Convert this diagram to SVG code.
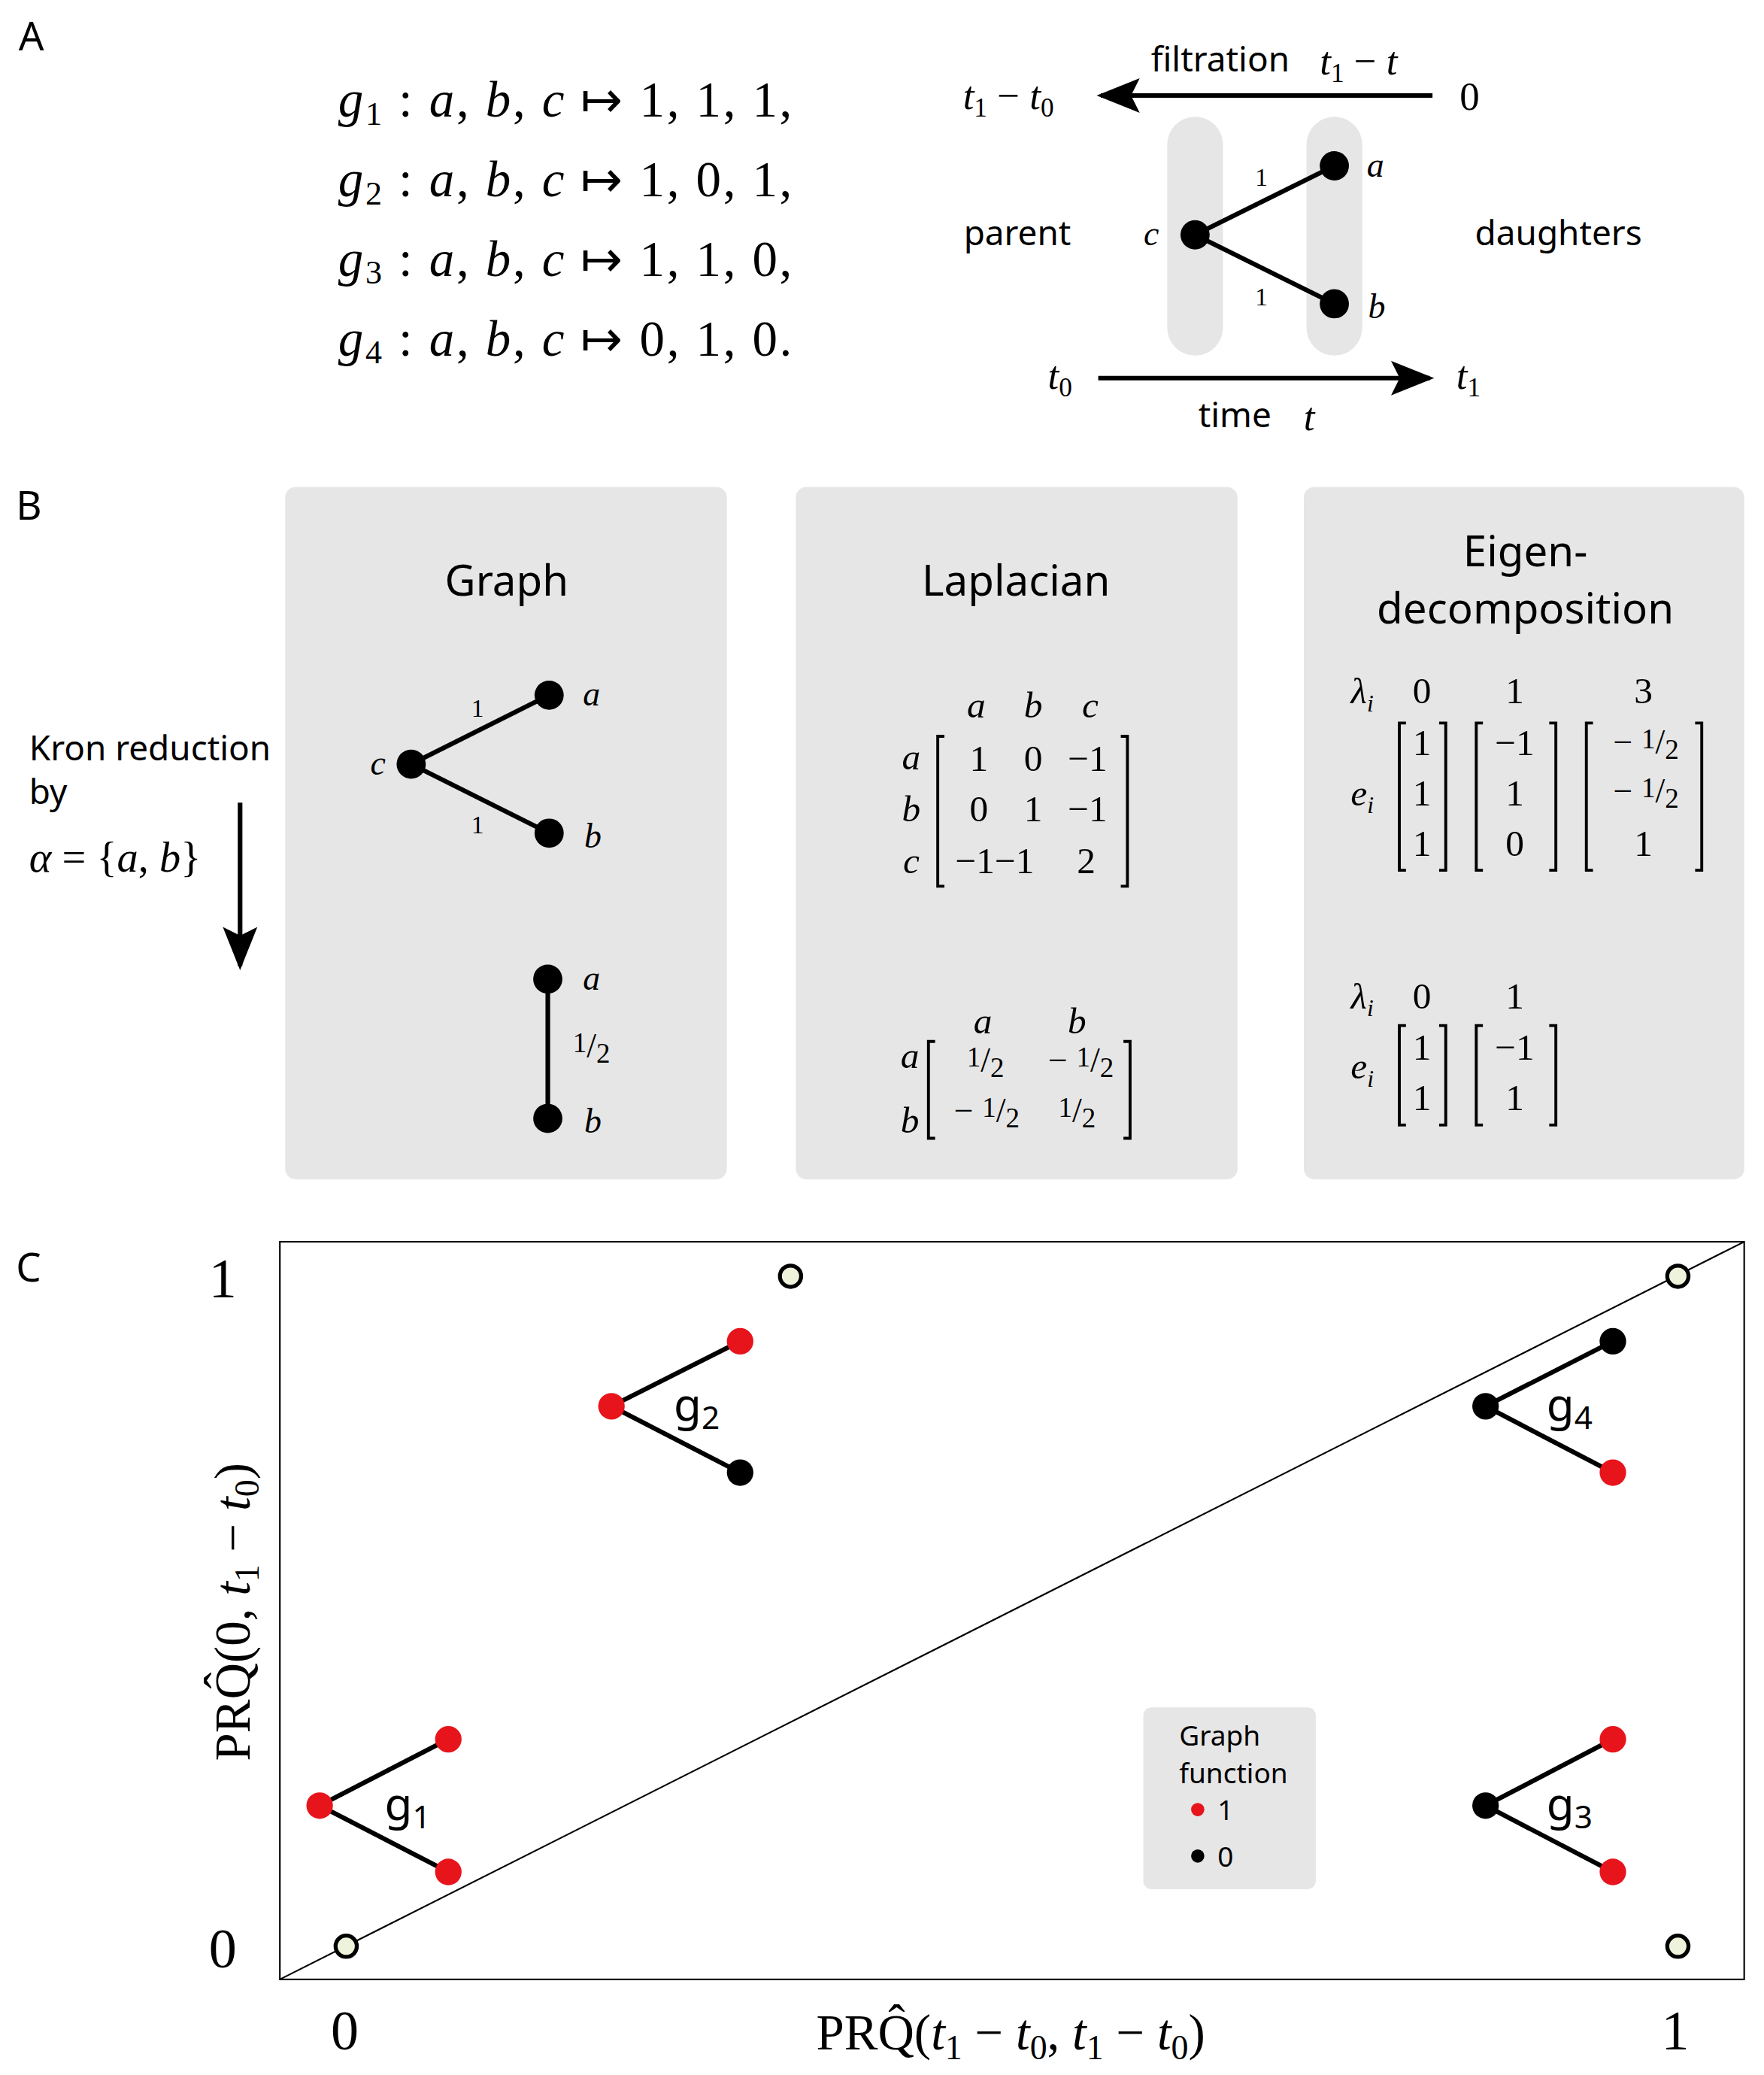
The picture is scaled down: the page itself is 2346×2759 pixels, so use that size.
<svg xmlns="http://www.w3.org/2000/svg" width="2346" height="2759" viewBox="0 0 2346 2759">
<style>
.s{font-family:"Noto Sans","Open Sans",sans-serif;fill:#000}
.m{font-family:"Liberation Serif",serif;font-style:italic;fill:#000}
.n{font-family:"Liberation Serif",serif;fill:#000}
.e{stroke:#000;stroke-width:3.5;fill:none}
.br{stroke:#000;stroke-width:2.2;fill:none}
.pan{fill:#e6e6e6}
</style>
<defs>
<marker id="ahb" viewBox="0 0 10 8" refX="9" refY="4" markerWidth="36" markerHeight="26" orient="auto" markerUnits="userSpaceOnUse"><path d="M0,0 L10,4 L0,8 L2,4 Z" fill="#000"/></marker>
</defs>
<rect width="2346" height="2759" fill="#fff"/>
<g transform="scale(1.764)">
<g id="panelA">
<text class="s" x="14" y="38" font-size="30">A</text>
<g font-size="38" letter-spacing="1.5">
<text class="m" x="255" y="88">g<tspan font-size="25" dy="6" font-style="normal">1</tspan><tspan dy="-6" font-style="normal"> : </tspan>a<tspan font-style="normal">, </tspan>b<tspan font-style="normal">, </tspan>c<tspan font-style="normal"> ↦ 1, 1, 1,</tspan></text>
<text class="m" x="255" y="148">g<tspan font-size="25" dy="6" font-style="normal">2</tspan><tspan dy="-6" font-style="normal"> : </tspan>a<tspan font-style="normal">, </tspan>b<tspan font-style="normal">, </tspan>c<tspan font-style="normal"> ↦ 1, 0, 1,</tspan></text>
<text class="m" x="255" y="208">g<tspan font-size="25" dy="6" font-style="normal">3</tspan><tspan dy="-6" font-style="normal"> : </tspan>a<tspan font-style="normal">, </tspan>b<tspan font-style="normal">, </tspan>c<tspan font-style="normal"> ↦ 1, 1, 0,</tspan></text>
<text class="m" x="255" y="268">g<tspan font-size="25" dy="6" font-style="normal">4</tspan><tspan dy="-6" font-style="normal"> : </tspan>a<tspan font-style="normal">, </tspan>b<tspan font-style="normal">, </tspan>c<tspan font-style="normal"> ↦ 0, 1, 0.</tspan></text>
</g>
<rect class="pan" x="880" y="88" width="42" height="180" rx="21"/>
<rect class="pan" x="985" y="88" width="42" height="180" rx="21"/>
<g id="conA">
<line class="e" x1="1080" y1="72" x2="830" y2="72" marker-end="url(#ahb)" stroke-width="3"/>
<line class="e" x1="828" y1="285" x2="1078" y2="285" marker-end="url(#ahb)" stroke-width="3"/>
<line class="e" x1="901" y1="177" x2="1006" y2="125"/>
<line class="e" x1="901" y1="177" x2="1006" y2="229"/>
</g>
<g id="A_c"><circle cx="901" cy="177" r="11"/><text class="m" x="868" y="185" font-size="26" text-anchor="middle">c</text></g>
<g id="A_a"><circle cx="1006" cy="125" r="11"/><text class="m" x="1037" y="133" font-size="26" text-anchor="middle">a</text></g>
<g id="A_b"><circle cx="1006" cy="229" r="11"/><text class="m" x="1038" y="240" font-size="26" text-anchor="middle">b</text></g>
<text class="n" x="951" y="140" font-size="19" text-anchor="middle">1</text>
<text class="n" x="951" y="230" font-size="19" text-anchor="middle">1</text>
<text class="s" x="920" y="54" font-size="26" text-anchor="middle">filtration</text>
<text class="m" x="995" y="56" font-size="30">t<tspan font-size="20" dy="6" font-style="normal">1</tspan><tspan dy="-6" font-style="normal"> − </tspan>t</text>
<text class="m" x="726" y="82" font-size="30">t<tspan font-size="20" dy="6" font-style="normal">1</tspan><tspan dy="-6" font-style="normal"> − </tspan>t<tspan font-size="20" dy="6" font-style="normal">0</tspan></text>
<text class="n" x="1108" y="83" font-size="30" text-anchor="middle">0</text>
<text class="s" x="767" y="185" font-size="26" text-anchor="middle">parent</text>
<text class="s" x="1175" y="185" font-size="26" text-anchor="middle">daughters</text>
<text class="m" x="790" y="293" font-size="30">t<tspan font-size="20" dy="6" font-style="normal">0</tspan></text>
<text class="m" x="1098" y="293" font-size="30">t<tspan font-size="20" dy="6" font-style="normal">1</tspan></text>
<text class="s" x="931" y="322" font-size="26" text-anchor="middle">time</text>
<text class="m" x="987" y="324" font-size="30" text-anchor="middle">t</text>
</g>
<g id="panelB">
<text class="s" x="12" y="392" font-size="30">B</text>
<rect class="pan" x="215" y="367" width="333" height="522" rx="8"/>
<rect class="pan" x="600" y="367" width="333" height="522" rx="8"/>
<rect class="pan" x="983" y="367" width="332" height="522" rx="8"/>
<text class="s" x="382" y="449" font-size="32" text-anchor="middle">Graph</text>
<text class="s" x="766" y="449" font-size="32" text-anchor="middle">Laplacian</text>
<text class="s" x="1150" y="427" font-size="32" text-anchor="middle">Eigen-</text>
<text class="s" x="1150" y="470" font-size="32" text-anchor="middle">decomposition</text>
<text class="s" x="22" y="573" font-size="26">Kron reduction</text>
<text class="s" x="22" y="606" font-size="26">by</text>
<text class="m" x="22" y="657" font-size="32">α<tspan font-style="normal"> = {</tspan>a<tspan font-style="normal">, </tspan>b<tspan font-style="normal">}</tspan></text>
<g id="conB">
<line class="e" x1="181" y1="605" x2="181" y2="728" marker-end="url(#ahb)" stroke-width="3"/>
<line class="e" x1="310" y1="576" x2="414" y2="524"/>
<line class="e" x1="310" y1="576" x2="414" y2="628"/>
<line class="e" x1="413" y1="738" x2="413" y2="843"/>
</g>
<g id="B_c"><circle cx="310" cy="576" r="11"/><text class="m" x="285" y="584" font-size="26" text-anchor="middle">c</text></g>
<g id="B_a"><circle cx="414" cy="524" r="11"/><text class="m" x="446" y="532" font-size="26" text-anchor="middle">a</text></g>
<g id="B_b"><circle cx="414" cy="628" r="11"/><text class="m" x="447" y="639" font-size="26" text-anchor="middle">b</text></g>
<text class="n" x="360" y="540" font-size="19" text-anchor="middle">1</text>
<text class="n" x="360" y="628" font-size="19" text-anchor="middle">1</text>
<g id="B_a2"><circle cx="413" cy="738" r="11"/><text class="m" x="446" y="746" font-size="26" text-anchor="middle">a</text></g>
<g id="B_b2"><circle cx="413" cy="843" r="11"/><text class="m" x="447" y="854" font-size="26" text-anchor="middle">b</text></g>
<text class="n" x="446" y="797" font-size="26" text-anchor="middle"><tspan font-size="21" dy="-4">1</tspan><tspan dy="4">/</tspan><tspan font-size="21" dy="4">2</tspan></text>
<g font-size="28" text-anchor="middle">
<text class="m" x="736" y="541">a</text><text class="m" x="779" y="541">b</text><text class="m" x="822" y="541">c</text>
<text class="m" x="687" y="580">a</text><text class="m" x="687" y="619">b</text><text class="m" x="687" y="658">c</text>
<text class="n" x="738" y="581">1</text><text class="n" x="779" y="581">0</text><text class="n" x="820" y="581">−1</text>
<text class="n" x="738" y="619">0</text><text class="n" x="779" y="619">1</text><text class="n" x="820" y="619">−1</text>
<text class="n" x="750" y="658">−1−1</text><text class="n" x="819" y="658">2</text>
</g>
<path class="br" d="M712,555 H707 V668 H712 M845,555 H850 V668 H845"/>
<g font-size="28" text-anchor="middle">
<text class="m" x="741" y="779">a</text><text class="m" x="812" y="779">b</text>
<text class="m" x="686" y="805">a</text><text class="m" x="686" y="854">b</text>
</g>
<g font-size="26" text-anchor="middle">
<text class="n" x="743" y="808"><tspan font-size="21" dy="-4">1</tspan><tspan dy="4">/</tspan><tspan font-size="21" dy="4">2</tspan></text>
<text class="n" x="815" y="808">− <tspan font-size="21" dy="-4">1</tspan><tspan dy="4">/</tspan><tspan font-size="21" dy="4">2</tspan></text>
<text class="n" x="744" y="846">− <tspan font-size="21" dy="-4">1</tspan><tspan dy="4">/</tspan><tspan font-size="21" dy="4">2</tspan></text>
<text class="n" x="812" y="846"><tspan font-size="21" dy="-4">1</tspan><tspan dy="4">/</tspan><tspan font-size="21" dy="4">2</tspan></text>
</g>
<path class="br" d="M705,785 H700 V858 H705 M847,785 H852 V858 H847"/>
<g font-size="28" text-anchor="middle">
<text class="m" x="1027" y="530">λ<tspan font-size="18" dy="6">i</tspan></text>
<text class="n" x="1072" y="530">0</text><text class="n" x="1142" y="530">1</text><text class="n" x="1239" y="530">3</text>
<text class="m" x="1027" y="607">e<tspan font-size="18" dy="6">i</tspan></text>
<text class="n" x="1072" y="569">1</text><text class="n" x="1072" y="607">1</text><text class="n" x="1072" y="645">1</text>
<text class="n" x="1142" y="569">−1</text><text class="n" x="1142" y="607">1</text><text class="n" x="1142" y="645">0</text>
<text class="n" x="1239" y="645">1</text>
<text class="m" x="1027" y="760">λ<tspan font-size="18" dy="6">i</tspan></text>
<text class="n" x="1072" y="760">0</text><text class="n" x="1142" y="760">1</text>
<text class="m" x="1027" y="813">e<tspan font-size="18" dy="6">i</tspan></text>
<text class="n" x="1072" y="799">1</text><text class="n" x="1072" y="837">1</text>
<text class="n" x="1142" y="799">−1</text><text class="n" x="1142" y="837">1</text>
</g>
<g font-size="26" text-anchor="middle">
<text class="n" x="1241" y="568">− <tspan font-size="21" dy="-4">1</tspan><tspan dy="4">/</tspan><tspan font-size="21" dy="4">2</tspan></text>
<text class="n" x="1241" y="605">− <tspan font-size="21" dy="-4">1</tspan><tspan dy="4">/</tspan><tspan font-size="21" dy="4">2</tspan></text>
</g>
<path class="br" d="M1060,545 H1055 V656 H1060 M1085,545 H1090 V656 H1085 M1118,545 H1113 V656 H1118 M1168,545 H1173 V656 H1168 M1201,545 H1196 V656 H1201 M1278,545 H1283 V656 H1278"/>
<path class="br" d="M1060,773 H1055 V848 H1060 M1085,773 H1090 V848 H1085 M1118,773 H1113 V848 H1118 M1168,773 H1173 V848 H1168"/>
</g>
<g id="panelC">
<text class="s" x="12" y="966" font-size="30">C</text>
<rect x="211" y="936" width="1104" height="556" fill="none" stroke="#000" stroke-width="1.2"/>
<line x1="211" y1="1492" x2="1315" y2="936" stroke="#000" stroke-width="1.2"/>
<text class="n" x="168" y="978" font-size="42" text-anchor="middle">1</text>
<text class="n" x="168" y="1483" font-size="42" text-anchor="middle">0</text>
<text class="n" x="260" y="1545" font-size="42" text-anchor="middle">0</text>
<text class="n" x="1263" y="1545" font-size="42" text-anchor="middle">1</text>
<text class="n" x="762" y="1545" font-size="38" text-anchor="middle">PRQ̂(<tspan font-style="italic">t</tspan><tspan font-size="26" dy="7">1</tspan><tspan dy="-7"> − </tspan><tspan font-style="italic">t</tspan><tspan font-size="26" dy="7">0</tspan><tspan dy="-7">, </tspan><tspan font-style="italic">t</tspan><tspan font-size="26" dy="7">1</tspan><tspan dy="-7"> − </tspan><tspan font-style="italic">t</tspan><tspan font-size="26" dy="7">0</tspan><tspan dy="-7">)</tspan></text>
<text class="n" transform="translate(188,1215) rotate(-90)" font-size="38" text-anchor="middle">PRQ̂(0, <tspan font-style="italic">t</tspan><tspan font-size="26" dy="7">1</tspan><tspan dy="-7"> − </tspan><tspan font-style="italic">t</tspan><tspan font-size="26" dy="7">0</tspan><tspan dy="-7">)</tspan></text>
<g fill="#eef3dc" stroke="#000" stroke-width="3">
<circle cx="596" cy="962" r="8"/><circle cx="1265" cy="962" r="8"/><circle cx="261" cy="1467" r="8"/><circle cx="1265" cy="1467" r="8"/>
</g>
<g id="conC">
<path class="e" d="M338,1311 L241,1361 L338,1411"/>
<path class="e" d="M558,1011 L461,1060 L558,1110"/>
<path class="e" d="M1216,1011 L1120,1060 L1216,1110"/>
<path class="e" d="M1216,1311 L1120,1361 L1216,1411"/>
</g>
<g id="g1"><circle cx="241" cy="1361" r="10" fill="#e8141c"/><circle cx="338" cy="1311" r="10" fill="#e8141c"/><circle cx="338" cy="1411" r="10" fill="#e8141c"/><text class="s" x="290" y="1372" font-size="34">g<tspan font-size="24" dy="6">1</tspan></text></g>
<g id="g2"><circle cx="461" cy="1060" r="10" fill="#e8141c"/><circle cx="558" cy="1011" r="10" fill="#e8141c"/><circle cx="558" cy="1110" r="10" fill="#000"/><text class="s" x="508" y="1071" font-size="34">g<tspan font-size="24" dy="6">2</tspan></text></g>
<g id="g4"><circle cx="1120" cy="1060" r="10" fill="#000"/><circle cx="1216" cy="1011" r="10" fill="#000"/><circle cx="1216" cy="1110" r="10" fill="#e8141c"/><text class="s" x="1166" y="1071" font-size="34">g<tspan font-size="24" dy="6">4</tspan></text></g>
<g id="g3"><circle cx="1120" cy="1361" r="10" fill="#000"/><circle cx="1216" cy="1311" r="10" fill="#e8141c"/><circle cx="1216" cy="1411" r="10" fill="#e8141c"/><text class="s" x="1166" y="1372" font-size="34">g<tspan font-size="24" dy="6">3</tspan></text></g>
<g id="legend">
<rect class="pan" x="862" y="1287" width="130" height="137" rx="6"/>
<text class="s" x="889" y="1316" font-size="21">Graph</text>
<text class="s" x="889" y="1344" font-size="21">function</text>
<circle cx="903" cy="1364" r="5" fill="#e8141c"/><text class="s" x="918" y="1372" font-size="21">1</text>
<circle cx="903" cy="1399" r="5" fill="#000"/><text class="s" x="918" y="1407" font-size="21">0</text>
</g>
</g>
</g>
</svg>
